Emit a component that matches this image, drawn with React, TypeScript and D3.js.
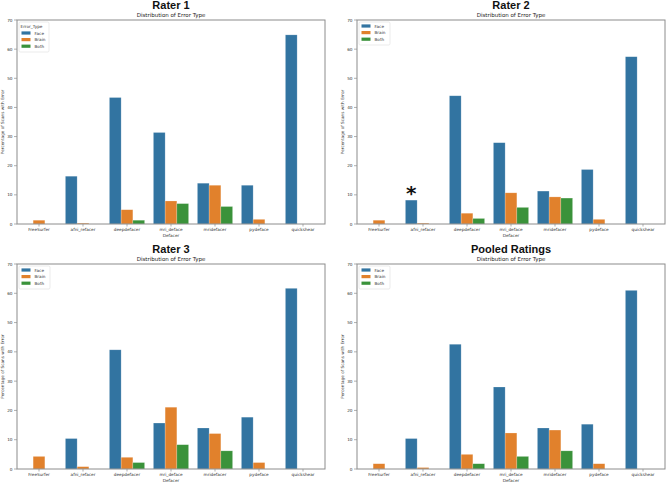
import React from "react";
import * as d3 from "d3";

const categories = ["FreeSurfer", "afni_refacer", "deepdefacer", "mri_deface", "mridefacer", "pydeface", "quickshear"];
const errorTypes = ["Face", "Brain", "Both"];
const colors = ["#3274a1", "#e1812c", "#3a923a"];
const yTicks = [0, 10, 20, 30, 40, 50, 60, 70];

// percentage of scans with error, per defacer
const rater1Face = [0, 16.4, 43.4, 31.4, 14.0, 13.3, 64.9];
const rater1Brain = [1.3, 0.3, 4.9, 7.9, 13.3, 1.6, 0];
const rater1Both = [0, 0, 1.3, 7.0, 6.0, 0, 0];

const rater2Face = [0, 8.2, 44.0, 27.9, 11.3, 18.7, 57.4];
const rater2Brain = [1.3, 0.3, 3.7, 10.7, 9.3, 1.6, 0];
const rater2Both = [0, 0, 1.9, 5.7, 8.9, 0, 0];

const rater3Face = [0, 10.4, 40.7, 15.7, 14.0, 17.7, 61.7];
const rater3Brain = [4.3, 0.8, 4.0, 21.1, 12.1, 2.2, 0];
const rater3Both = [0, 0, 2.2, 8.3, 6.2, 0, 0];

const pooledFace = [0, 10.4, 42.6, 28.0, 14.0, 15.3, 61.0];
const pooledBrain = [1.8, 0.5, 5.0, 12.3, 13.3, 1.8, 0];
const pooledBoth = [0, 0, 1.8, 4.3, 6.2, 0, 0];

const panels = [
  { title: "Rater 1", series: [rater1Face, rater1Brain, rater1Both], legendTitle: "Error_Type", star: null, box: { left: 17, right: 325, top: 20, bottom: 224 } },
  { title: "Rater 2", series: [rater2Face, rater2Brain, rater2Both], legendTitle: null, star: "afni_refacer", box: { left: 357, right: 665, top: 20, bottom: 224 } },
  { title: "Rater 3", series: [rater3Face, rater3Brain, rater3Both], legendTitle: null, star: null, box: { left: 17, right: 325, top: 264, bottom: 469 } },
  { title: "Pooled Ratings", series: [pooledFace, pooledBrain, pooledBoth], legendTitle: null, star: null, box: { left: 357, right: 665, top: 264, bottom: 469 } },
];

const small = "'DejaVu Sans', sans-serif";
const spine = "#8c8c8c";

function Panel({ p }: { p: any }) {
  const { left, right, top, bottom } = p.box;
  const x = d3.scaleBand().domain(categories).range([left, right]);
  const hue = d3.scaleBand().domain(errorTypes).range([0, x.bandwidth() * 0.8]);
  const y = d3.scaleLinear().domain([0, 70]).range([bottom, top]);
  const cx = (left + right) / 2;
  const cy = (top + bottom) / 2;
  const hasTitle = !!p.legendTitle;
  const rowY = (i: number) => top + (hasTitle ? 13 : 6) + i * 6.6;

  return (
    <g>
      <text x={cx} y={top - 11} textAnchor="middle" fontFamily="'Liberation Sans', Arial, sans-serif" fontWeight="bold" fontSize={11} fill="#111">{p.title}</text>
      <text x={cx} y={top - 3.5} textAnchor="middle" fontFamily={small} fontSize={5.5} fill="#222">Distribution of Error Type</text>

      {p.series.map((vals: number[], s: number) =>
        vals.map((v, i) => (
          <rect key={`${s}-${i}`}
            x={(x(categories[i]) as number) + x.bandwidth() * 0.1 + (hue(errorTypes[s]) as number)}
            y={y(v)} width={hue.bandwidth()} height={y(0) - y(v)}
            fill={colors[s]} stroke="#ffffff" strokeOpacity={0.35} strokeWidth={0.6} />
        ))
      )}

      {p.star && (
        <text x={(x(p.star) as number) + x.bandwidth() * 0.1 + (hue("Face") as number) + hue.bandwidth() / 2}
          y={y(p.series[0][categories.indexOf(p.star)])}
          textAnchor="middle" fontFamily="'DejaVu Sans', sans-serif" fontWeight="bold" fontSize={20} fill="#111">*</text>
      )}

      <rect x={left} y={top} width={right - left} height={bottom - top} fill="none" stroke={spine} strokeWidth={1} />

      {yTicks.map((t) => (
        <g key={t}>
          <line x1={left - 3} x2={left} y1={y(t)} y2={y(t)} stroke={spine} strokeWidth={0.7} />
          <text x={left - 4.5} y={y(t) + 1.5} textAnchor="end" fontFamily={small} fontSize={4.2} fill="#333">{t}</text>
        </g>
      ))}
      {categories.map((c) => (
        <g key={c}>
          <line x1={(x(c) as number) + x.bandwidth() / 2} x2={(x(c) as number) + x.bandwidth() / 2} y1={bottom} y2={bottom + 2.5} stroke={spine} strokeWidth={0.7} />
          <text x={(x(c) as number) + x.bandwidth() / 2} y={bottom + 7} textAnchor="middle" fontFamily={small} fontSize={4.2} fill="#333">{c}</text>
        </g>
      ))}
      <text x={cx} y={bottom + 12.5} textAnchor="middle" fontFamily={small} fontSize={4.2} fill="#333">Defacer</text>
      <text transform={`translate(${left - 13.5},${cy}) rotate(-90)`} textAnchor="middle" fontFamily={small} fontSize={4.2} fill="#333">Percentage of Scans with Error</text>

      <g>
        <rect x={left + 2} y={top + 2} width={hasTitle ? 30 : 31} height={hasTitle ? 30 : 23} rx={1.5}
          fill="#fff" fillOpacity={0.85} stroke="#dddddd" strokeWidth={0.6} />
        {hasTitle && (
          <text x={left + 3.5} y={top + 7.5} fontFamily={small} fontSize={4.2} fill="#333">{p.legendTitle}</text>
        )}
        {errorTypes.map((t, i) => (
          <g key={t}>
            <rect x={left + 4.5} y={rowY(i) - 1.6} width={9} height={3.2} fill={colors[i]} />
            <text x={left + 17.5} y={rowY(i) + 1.5} fontFamily={small} fontSize={4.2} fill="#333">{t}</text>
          </g>
        ))}
      </g>
    </g>
  );
}

export default function App() {
  return (
    <svg width={669} height={484} viewBox="0 0 669 484" style={{ position: "absolute", left: 0, top: 0, background: "#fff" }}>
      <rect width={669} height={484} fill="#fff" />
      {panels.map((p) => (
        <Panel key={p.title} p={p} />
      ))}
    </svg>
  );
}
